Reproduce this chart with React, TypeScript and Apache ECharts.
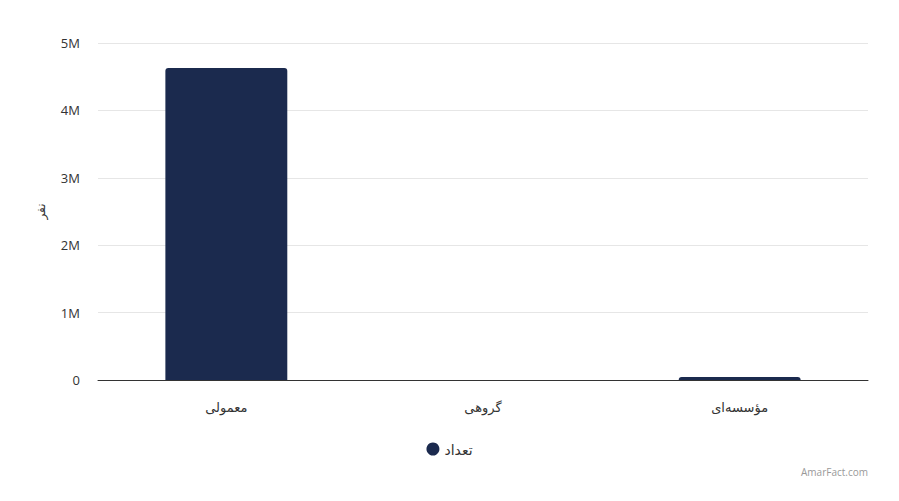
import React, { useEffect, useRef } from 'react';
import * as echarts from 'echarts';

const categories = ['معمولی', 'گروهی', 'مؤسسه‌ای'];
const counts = [4630000, 1500, 45000];
const seriesName = 'تعداد';
const yAxisName = 'نفر';

const FONT = '"Open Sans", "DejaVu Sans", sans-serif';

export default function App() {
    const chartRef = useRef<HTMLDivElement>(null);

    useEffect(() => {
        const chart = echarts.init(chartRef.current!, null, { renderer: 'svg' });

        chart.setOption({
            animation: false,
            textStyle: { fontFamily: FONT },
            grid: { left: 98, right: 31, top: 43, bottom: 121 },
            legend: {
                bottom: 40,
                left: 'center',
                icon: 'circle',
                itemWidth: 13,
                itemHeight: 13,
                itemGap: 8,
                textStyle: { color: '#333', fontSize: 14, fontFamily: FONT },
                data: [seriesName],
            },
            graphic: [
                {
                    type: 'text',
                    right: 31,
                    bottom: 24,
                    style: {
                        text: 'AmarFact.com',
                        fill: '#999',
                        fontSize: 10,
                        fontFamily: FONT,
                    },
                },
            ],
            xAxis: {
                type: 'category',
                data: categories,
                axisTick: { show: false },
                axisLine: { lineStyle: { color: '#333', width: 1 } },
                axisLabel: { color: '#333', fontSize: 13, margin: 20 },
            },
            yAxis: {
                type: 'value',
                min: 0,
                max: 5000000,
                interval: 1000000,
                name: yAxisName,
                nameLocation: 'middle',
                nameGap: 52,
                nameRotate: 90,
                nameTextStyle: { color: '#333', fontSize: 12 },
                axisLabel: {
                    color: '#333',
                    fontSize: 13,
                    margin: 18,
                    formatter: (v: number) => (v === 0 ? '0' : v / 1000000 + 'M'),
                },
                splitLine: { lineStyle: { color: '#e6e6e6' } },
            },
            series: [
                {
                    name: seriesName,
                    type: 'bar',
                    data: counts,
                    barWidth: '47.5%',
                    itemStyle: { color: '#1b2a4e', borderRadius: [3, 3, 0, 0] },
                },
            ],
        });

        return () => {
            chart.dispose();
        };
    }, []);

    return (
        <div
            ref={chartRef}
            style={{ position: 'absolute', left: 0, top: 0, width: 899, height: 501 }}
        />
    );
}
